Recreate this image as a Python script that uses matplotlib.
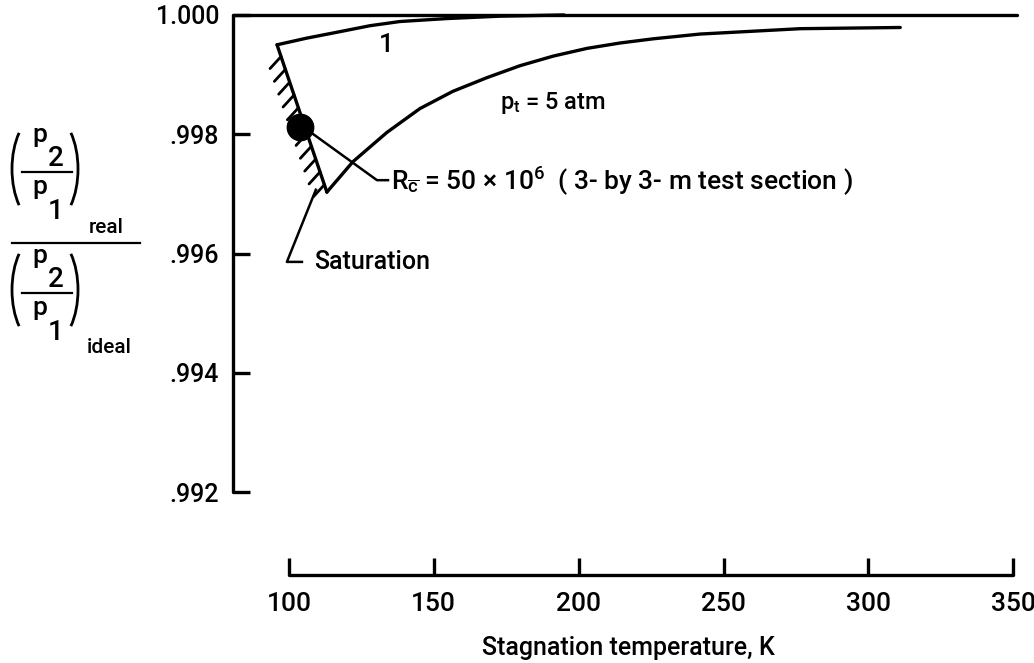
import matplotlib
matplotlib.use("Agg")
import matplotlib.pyplot as plt
from matplotlib.patches import Arc
from matplotlib.transforms import IdentityTransform
import numpy as np

plt.rcParams['font.family'] = ['Roboto', 'DejaVu Sans']
plt.rcParams['font.weight'] = 'medium'
plt.rcParams['mathtext.fontset'] = 'custom'
plt.rcParams['mathtext.rm'] = 'Roboto:medium'
plt.rcParams['mathtext.it'] = 'Roboto:medium'

# values
temp_ticks = [100, 150, 200, 250, 300, 350]
ratio_ticks = [0.992, 0.994, 0.996, 0.998, 1.000]
ratio_labels = ['.992', '.994', '.996', '.998', '1.000']

# curve labelled "1"
t_one = [95.9, 106.0, 117.6, 128.0, 138.3, 154.6, 172.9, 195.0]
r_one = [0.99950, 0.99961, 0.99972, 0.99982, 0.99989, 0.99994, 0.99998, 1.00000]

# p_t = 5 atm curve
t_five = [113.1, 122.1, 133.8, 145.2, 156.6, 168.4, 179.8, 191.2, 202.9,
          214.3, 225.7, 241.9, 276.5, 311.0]
r_five = [0.99703, 0.99754, 0.99803, 0.99843, 0.99872, 0.99895, 0.99915,
          0.99931, 0.99944, 0.99953, 0.99960, 0.99968, 0.99977, 0.99979]

# saturation boundary
t_sat = [95.9, 113.1]
r_sat = [0.99950, 0.99703]

# R = 50e6 point
t_pt = [103.8]
r_pt = [0.99812]

W, H = 1034, 663
fig = plt.figure(figsize=(W / 100, H / 100), dpi=100)

# axes placed from pixel anchors (left spine x=233, right end x=1017)
x0, x1 = 233, 1017
ytop, ybot = 9, 581.6
ax = fig.add_axes([x0 / W, 1 - ybot / H, (x1 - x0) / W, (ybot - ytop) / H])
ax.set_xlim(80.7, 351.3)
ax.set_ylim(0.9905, 1.0001)

lw = 2.4
ax.spines['right'].set_visible(False)
ax.spines['left'].set_bounds(0.992, 1.000)
ax.spines['top'].set_position(('data', 1.000))
ax.spines['top'].set_bounds(80.7, 351.3)
ax.spines['bottom'].set_position(('data', 0.99061))
ax.spines['bottom'].set_bounds(100, 350)
for s in ['left', 'top', 'bottom']:
    ax.spines[s].set_linewidth(lw)
    ax.spines[s].set_capstyle('round')

ax.set_xticks(temp_ticks)
ax.set_xticklabels([str(t) for t in temp_ticks])
ax.set_yticks(ratio_ticks)
ax.set_yticklabels(ratio_labels)
ax.tick_params(axis='x', direction='in', length=12, width=lw, labelsize=19, pad=12)
ax.tick_params(axis='y', direction='in', length=12, width=lw, labelsize=18, pad=10)

kw = dict(color='black', lw=lw, solid_capstyle='round', solid_joinstyle='round')
ax.plot(t_one, r_one, **kw)
ax.plot(t_five, r_five, **kw)
ax.plot(t_sat, r_sat, **kw)
ax.plot(t_pt, r_pt, 'o', color='black', ms=19)

# hatching on the left of the saturation line (done in pixel space)
p0, p1 = ax.transData.transform([[t_sat[0], r_sat[0]], [t_sat[1], r_sat[1]]])
inv = ax.transData.inverted()
for f in np.linspace(0.08, 0.95, 11):
    a = p0 + f * (p1 - p0)
    b = a + np.array([-11, -12])
    seg = inv.transform([a, b])
    ax.plot(seg[:, 0], seg[:, 1], color='black', lw=2.0, solid_capstyle='round')

# leaders
ax.plot([107.3, 130.4, 134.2], [0.99804, 0.99723, 0.99723], color='black', lw=1.8)
ax.plot([104.5, 99.3, 109.3], [0.99586, 0.99586, 0.99707], color='black', lw=1.8)

ax.text(133.8, 0.99950, '1', fontsize=19, ha='center', va='center')
ax.text(172.9, 0.99852, r'p$_\mathregular{t}$ = 5 atm', fontsize=17, ha='left', va='center')
ax.text(135.3, 0.99723,
        r'R$_{\overline{\mathregular{c}}}$ = 50 × 10$^\mathregular{6}$  ( 3- by 3- m test section )',
        fontsize=19, ha='left', va='center')
ax.text(108.8, 0.99586, 'Saturation', fontsize=18, ha='left', va='center')

# y label: stacked fraction built in pixel coordinates (y measured from top)
px = IdentityTransform()


def ptxt(x, y, s, size, **kw):
    fig.text(x, H - y, s, transform=px, fontsize=size, va='baseline', ha='left', **kw)


def pline(xa, xb, y, lw=1.6):
    fig.add_artist(plt.Line2D([xa, xb], [H - y, H - y], color='black', lw=lw,
                              transform=px))


def parens(yc, half):
    ry = half / 0.866
    fig.add_artist(Arc((40, H - yc), 56, 2 * ry, theta1=120, theta2=240,
                       lw=2.0, color='black', transform=px))
    fig.add_artist(Arc((50, H - yc), 56, 2 * ry, theta1=-60, theta2=60,
                       lw=2.0, color='black', transform=px))


def group(bar_y, sub, sub_x, sub_y):
    parens(bar_y - 3, 47)
    ptxt(32, bar_y - 30, 'p', 19)
    ptxt(48, bar_y - 6, '2', 20)
    pline(22, 72, bar_y)
    ptxt(32, bar_y + 22, 'p', 19)
    ptxt(48, bar_y + 47, '1', 20)
    ptxt(sub_x, sub_y, sub, 15)


group(172, 'real', 89, 233)
pline(12, 140, 243)
group(293, 'ideal', 87, 353)

fig.text(628 / W, 1 - 648 / H, 'Stagnation temperature, K', fontsize=18,
         ha='center', va='center')

fig.savefig('out.png', dpi=100)
